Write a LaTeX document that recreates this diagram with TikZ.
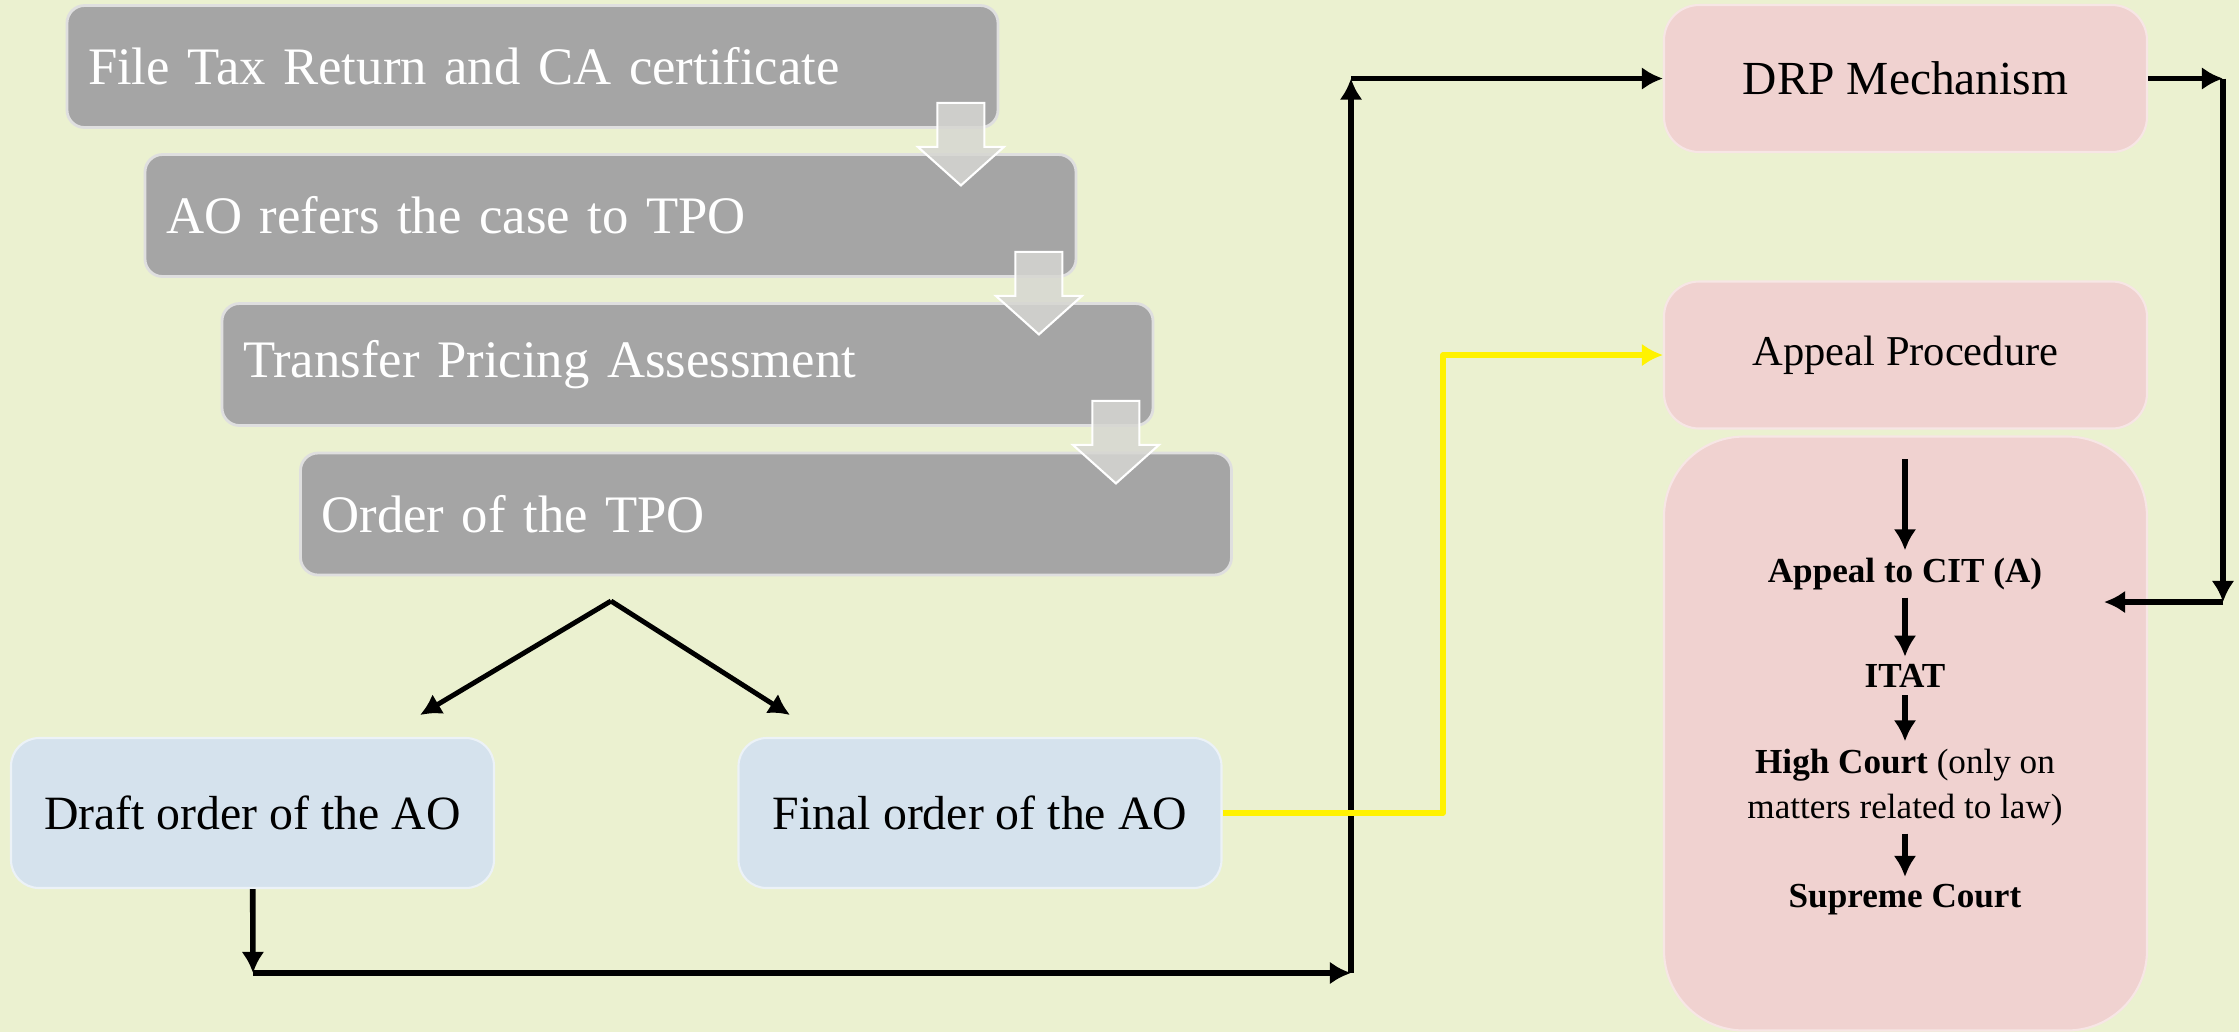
\documentclass[tikz,border=0pt]{standalone}
\usepackage{fontspec}
\setmainfont{Liberation Serif}
\usetikzlibrary{arrows.meta}

\definecolor{bgcol}{RGB}{235,241,208}
\definecolor{boxgray}{RGB}{165,165,165}
\definecolor{boxpink}{RGB}{240,210,208}
\definecolor{boxblue}{RGB}{213,226,237}
\definecolor{arrowgray}{RGB}{214,214,210}

\begin{document}
\begin{tikzpicture}[>={Latex[length=6pt,width=6.5pt]},
    gray node/.style={rectangle, rounded corners=5pt, fill=boxgray, draw=white!65!boxgray, line width=0.8pt, text=white, font=\fontsize{15}{18}\selectfont, text width=8.89cm, inner xsep=0.21cm, minimum height=1.22cm, align=left},
    order node/.style={rectangle, rounded corners=8pt, fill=boxblue, draw=white!55!boxblue, line width=0.6pt, minimum width=4.83cm, minimum height=1.5cm, font=\fontsize{13.6}{16}\selectfont},
    review node/.style={rectangle, rounded corners=10pt, fill=boxpink, draw=white!45!boxpink, line width=0.6pt, minimum width=4.83cm, minimum height=1.47cm},
    court node/.style={font=\fontsize{10}{12.8}\selectfont, align=center, inner xsep=1pt, inner ysep=2pt},
    down arrow/.style={fill=arrowgray, fill opacity=0.85, draw=white, line width=0.6pt},
    link/.style={->, line width=1.6pt, line join=round}]

        \useasboundingbox (0,0) rectangle (22.39,-10.32);
        \fill[bgcol] (0,0) rectangle (22.39,-10.32);

        \node[gray node] at (5.325, -0.665) (file) {File Tax Return and CA certificate};
        \node[gray node] at (6.105, -2.155) (refer) {AO refers the case to TPO};
        \node[gray node] at (6.875, -3.645) (assess) {Transfer Pricing Assessment};
        \node[gray node] at (7.66, -5.14) (tpo) {Order of the TPO};

        \foreach \b in {file,refer,assess}
            \filldraw[down arrow] ([shift={(-0.62,0.26)}]\b.south east) -- ([shift={(-0.15,0.26)}]\b.south east)
                -- ([shift={(-0.15,-0.18)}]\b.south east) -- ([shift={(0.045,-0.18)}]\b.south east)
                -- ([shift={(-0.385,-0.565)}]\b.south east) -- ([shift={(-0.815,-0.18)}]\b.south east)
                -- ([shift={(-0.62,-0.18)}]\b.south east) -- cycle;

        \node[order node] at (2.525, -8.13) (draft) {Draft order of the AO};
        \node[order node] at (9.80, -8.13) (final) {Final order of the AO};

        \node[review node, font=\fontsize{13.5}{16}\selectfont] at (19.055, -0.785) (drp) {DRP Mechanism};
        \node[review node, font=\fontsize{12.1}{14}\selectfont] at (19.055, -3.55) (appeal) {Appeal Procedure};
        \node[review node, rounded corners=0.8cm, minimum height=5.94cm] at (19.055, -7.335) (courts) {};

        \node[court node] at (19.05, -5.74) (cit) {\textbf{Appeal to CIT (A)}};
        \node[court node] at (19.05, -6.76) (itat) {\textbf{ITAT}};
        \node[court node] at (19.05, -7.875) (high) {\textbf{High Court} (only on\\matters related to law)};
        \node[court node] at (19.05, -9.0) (supreme) {\textbf{Supreme Court}};

        \coordinate (courtin) at (19.05, -4.59);
        \path[link] (courtin) edge (cit);
        \path[link] (cit) edge (itat);
        \path[link] (itat) edge (high);
        \path[link] (high) edge (supreme);

        \coordinate (split) at (6.11, -6.01);
        \coordinate (todraft) at (4.20, -7.15);
        \coordinate (tofinal) at (7.90, -7.15);
        \path[link, line width=1.4pt] (split) edge (todraft);
        \path[link, line width=1.4pt] (split) edge (tofinal);

        \coordinate (low) at (2.53, -9.73);
        \coordinate (lowright) at (13.51, -9.73);
        \coordinate (upleft) at (13.51,0 |- drp);
        \path[link] (draft) edge (low);
        \path[link] (low) edge (lowright);
        \path[link] (lowright) edge (upleft);
        \path[link] (upleft) edge (drp);

        \coordinate (rightup) at (22.23,0 |- drp);
        \coordinate (rightdown) at (22.23, -6.02);
        \coordinate (tocit) at (21.04, -6.02);
        \path[link] (drp) edge (rightup);
        \path[link] (rightup) edge (rightdown);
        \path[link] (rightdown) edge (tocit);

        \coordinate (bend) at (14.43,0 |- appeal);
        \draw[link, yellow] (final) -| (bend) -- (appeal);
    \end{tikzpicture}
\end{document}
